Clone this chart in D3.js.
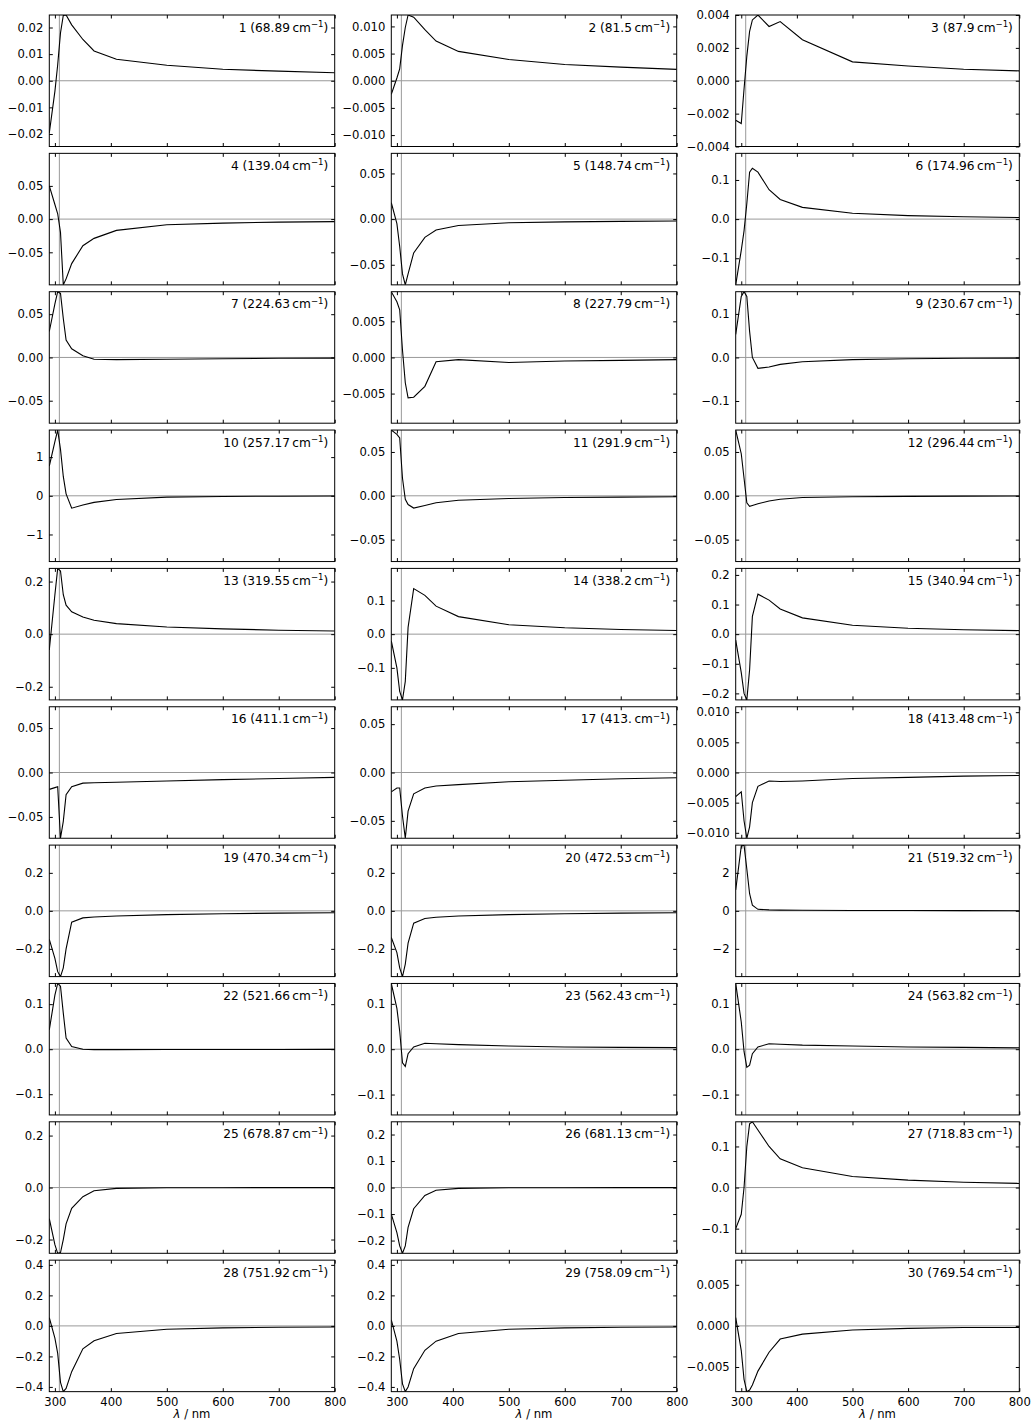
<!DOCTYPE html>
<html><head><meta charset="utf-8">
<script src="https://cdn.jsdelivr.net/npm/d3@7"></script>
<style>body{margin:0;background:#fff} svg text{font-family:"DejaVu Sans",sans-serif}</style>
</head><body><svg id="c" width="1032" height="1422"></svg>
<script>
// ---------- data ----------
const wavelengths = [290, 300, 305, 310, 315, 320, 330, 350, 370, 410, 500, 600, 700, 800];
const modeNumbers = d3.range(1, 31);
const frequencies = ["68.89","81.5","87.9","139.04","148.74","174.96","224.63","227.79","230.67","257.17",
  "291.9","296.44","319.55","338.2","340.94","411.1","413.","413.48","470.34","472.53",
  "519.32","521.66","562.43","563.82","678.87","681.13","718.83","751.92","758.09","769.54"];
const yTickSteps = [0.01,0.005,0.002,0.05,0.05,0.1,0.05,0.005,0.1,1,
  0.05,0.05,0.2,0.1,0.1,0.05,0.05,0.005,0.2,0.2,
  2,0.1,0.1,0.1,0.2,0.1,0.1,0.2,0.2,0.005];
const xTicks = [300, 400, 500, 600, 700, 800];
const xDomain = [290, 800];
const excitationWavelength = 308;
const spectra = [
  [-0.0196,-0.004,0.006,0.018,0.0245,0.0247,0.021,0.0155,0.0112,0.0081,0.0058,0.0043,0.0036,0.0030],
  [-0.0025,0.0005,0.0022,0.0065,0.0098,0.0121,0.0117,0.0094,0.0073,0.0054,0.0039,0.0030,0.0025,0.0021],
  [-0.0024,-0.0026,-0.0005,0.0015,0.0030,0.0037,0.0040,0.0033,0.0036,0.0025,0.00115,0.0009,0.0007,0.0006],
  [0.05,0.022,0.008,-0.02,-0.099,-0.09,-0.067,-0.04,-0.029,-0.017,-0.0085,-0.006,-0.0045,-0.0038],
  [0.018,-0.005,-0.03,-0.06,-0.072,-0.060,-0.037,-0.020,-0.012,-0.007,-0.004,-0.003,-0.0025,-0.002],
  [-0.168,-0.08,-0.03,0.04,0.12,0.13,0.12,0.075,0.05,0.03,0.015,0.009,0.006,0.004],
  [0.03,0.062,0.076,0.074,0.045,0.02,0.01,0.002,-0.002,-0.0025,-0.002,-0.0015,-0.001,-0.0008],
  [0.0091,0.0077,0.0066,0.001,-0.0035,-0.0056,-0.0055,-0.0040,-0.0006,-0.0003,-0.0007,-0.0005,-0.0004,-0.0003],
  [0.053,0.14,0.151,0.14,0.06,0.0,-0.025,-0.022,-0.016,-0.01,-0.005,-0.003,-0.002,-0.0015],
  [0.77,1.4,1.70,1.2,0.5,0.05,-0.32,-0.24,-0.17,-0.095,-0.035,-0.018,-0.01,-0.007],
  [0.075,0.07,0.066,0.02,-0.004,-0.010,-0.014,-0.011,-0.008,-0.005,-0.003,-0.002,-0.0015,-0.001],
  [0.075,0.048,0.02,-0.008,-0.012,-0.011,-0.009,-0.006,-0.004,-0.002,-0.001,-0.0006,-0.0004,-0.0003],
  [-0.06,0.15,0.25,0.24,0.15,0.11,0.085,0.065,0.053,0.04,0.027,0.02,0.015,0.012],
  [-0.02,-0.1,-0.17,-0.195,-0.14,0.02,0.135,0.115,0.083,0.052,0.028,0.019,0.014,0.011],
  [-0.02,-0.13,-0.2,-0.222,-0.12,0.06,0.135,0.115,0.085,0.055,0.03,0.02,0.015,0.012],
  [-0.019,-0.017,-0.016,-0.074,-0.055,-0.025,-0.016,-0.012,-0.0115,-0.011,-0.0095,-0.008,-0.0068,-0.0055],
  [-0.02,-0.016,-0.016,-0.045,-0.068,-0.04,-0.022,-0.016,-0.014,-0.0125,-0.0095,-0.008,-0.0065,-0.0055],
  [-0.004,-0.0032,-0.008,-0.0109,-0.009,-0.005,-0.0023,-0.0014,-0.0015,-0.0014,-0.001,-0.0008,-0.0006,-0.0005],
  [-0.15,-0.25,-0.32,-0.346,-0.3,-0.2,-0.06,-0.037,-0.032,-0.027,-0.02,-0.015,-0.012,-0.01],
  [-0.14,-0.22,-0.3,-0.346,-0.28,-0.17,-0.065,-0.04,-0.034,-0.027,-0.02,-0.015,-0.012,-0.01],
  [1.1,3.4,3.46,2.2,0.9,0.3,0.08,0.05,0.04,0.03,0.02,0.015,0.01,0.008],
  [0.043,0.12,0.146,0.14,0.08,0.025,0.006,0.0,-0.001,-0.001,-0.0008,-0.0006,-0.0005,-0.0004],
  [0.145,0.09,0.04,-0.03,-0.038,-0.01,0.005,0.013,0.012,0.01,0.007,0.005,0.004,0.0035],
  [0.145,0.06,-0.005,-0.04,-0.035,-0.01,0.005,0.012,0.011,0.009,0.007,0.005,0.004,0.003],
  [-0.12,-0.22,-0.253,-0.25,-0.2,-0.14,-0.08,-0.035,-0.012,-0.003,-0.001,-0.0005,-0.0003,-0.0002],
  [-0.1,-0.17,-0.22,-0.248,-0.22,-0.15,-0.08,-0.03,-0.01,-0.003,-0.001,-0.0005,-0.0003,-0.0002],
  [-0.1,-0.065,0.0,0.1,0.155,0.16,0.14,0.1,0.07,0.048,0.027,0.018,0.013,0.01],
  [0.054,-0.08,-0.18,-0.37,-0.431,-0.41,-0.3,-0.15,-0.098,-0.05,-0.022,-0.013,-0.009,-0.007],
  [0.04,-0.1,-0.22,-0.38,-0.431,-0.4,-0.28,-0.16,-0.1,-0.05,-0.022,-0.013,-0.009,-0.007],
  [0.001,-0.003,-0.0065,-0.008,-0.0078,-0.0072,-0.0055,-0.0032,-0.0016,-0.001,-0.0005,-0.0003,-0.0002,-0.0002]
];

// ---------- layout ----------
const colLeft = [49.3, 391.3, 735.7], colWidth = [285.4, 285.4, 283.6];
const rowTop0 = 15, rowPitch = 138.35, panelH = 131.5;
const nRows = 10, nCols = 3;
const tickFont = 11.6, annFont = 12.2;

const svg = d3.select("#c");
svg.append("rect").attr("width",1032).attr("height",1422).attr("fill","#fff");

spectra.forEach((vals, i) => {
  const col = i % nCols, row = Math.floor(i / nCols);
  const x0 = colLeft[col], y0 = rowTop0 + row * rowPitch;
  const w = colWidth[col], h = panelH;
  const g = svg.append("g").attr("transform", `translate(${x0},${y0})`);

  const x = d3.scaleLinear(xDomain, [0, w]);
  const ymax = d3.max(vals, Math.abs);
  const y = d3.scaleLinear([-ymax, ymax], [h, 0]);

  const step = yTickSteps[i];
  const kmax = Math.floor(ymax / step + 1e-6);
  const yt = d3.range(-kmax, kmax + 1).map(k => +(k * step).toFixed(10));
  const dec = Math.max(0, Math.ceil(-Math.log10(step) - 1e-9));
  const fmt = d3.format(`.${dec}f`);

  const clipId = "clip" + i;
  g.append("clipPath").attr("id", clipId).append("rect").attr("width", w).attr("height", h);

  // reference lines
  g.append("line").attr("x1",0).attr("x2",w).attr("y1",y(0)).attr("y2",y(0))
    .attr("stroke","#999").attr("stroke-width",1);
  g.append("line").attr("x1",x(excitationWavelength)).attr("x2",x(excitationWavelength))
    .attr("y1",0).attr("y2",h).attr("stroke","#999").attr("stroke-width",1);

  // data line
  const line = d3.line().x((d, j) => x(wavelengths[j])).y(d => y(d));
  g.append("path").datum(vals).attr("d", line).attr("fill","none")
    .attr("stroke","#000").attr("stroke-width",1.1).attr("clip-path",`url(#${clipId})`);

  // axes (inward ticks on all sides)
  const yl = g.append("g").call(d3.axisLeft(y).tickValues(yt).tickSize(-3.5).tickPadding(6).tickFormat(fmt));
  const yr = g.append("g").attr("transform",`translate(${w},0)`)
    .call(d3.axisRight(y).tickValues(yt).tickSize(-3.5).tickFormat(""));
  const xt = g.append("g").call(d3.axisTop(x).tickValues(xTicks).tickSize(-3.5).tickFormat(""));
  const xb = g.append("g").attr("transform",`translate(0,${h})`)
    .call(d3.axisBottom(x).tickValues(xTicks).tickSize(-3.5).tickPadding(6)
      .tickFormat(row === nRows - 1 ? d3.format("d") : ""));
  [yl, yr, xt, xb].forEach(a => {
    a.select(".domain").remove();
    a.selectAll("line").attr("stroke","#000").attr("stroke-width",1);
    a.attr("font-family", null).attr("font-size", null);
    a.selectAll("text").attr("font-size", tickFont).attr("fill","#000");
  });

  // frame
  g.append("rect").attr("width", w).attr("height", h).attr("fill","none")
    .attr("stroke","#000").attr("stroke-width",1);

  // annotation
  const t = g.append("text").attr("x", w - 6.4).attr("y", 16.7).attr("text-anchor","end")
    .attr("font-size", annFont).attr("fill","#000");
  t.append("tspan").text(`${modeNumbers[i]} (${frequencies[i]}\u2009cm`);
  t.append("tspan").attr("font-size", annFont * 0.7).attr("dy", -4.6).text("\u22121");
  t.append("tspan").attr("dy", 4.6).text(")");

  // x-axis title under bottom row
  if (row === nRows - 1) {
    const lab = svg.append("text").attr("x", x0 + w / 2).attr("y", 1418)
      .attr("text-anchor","middle").attr("font-size", tickFont).attr("fill","#000");
    lab.append("tspan").attr("font-style","italic").text("λ");
    lab.append("tspan").text(" / nm");
  }
});
</script>
</body></html>
